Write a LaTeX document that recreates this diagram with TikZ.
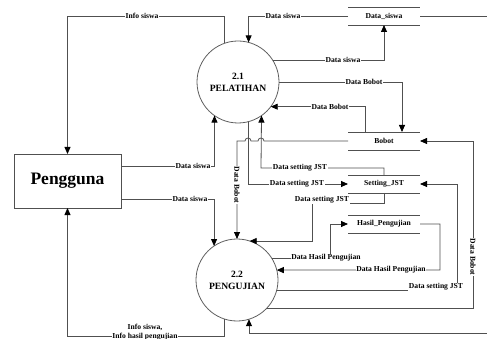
\documentclass[tikz,border=0pt]{standalone}
\usepackage{fontspec}
\setmainfont{Liberation Serif}
\usetikzlibrary{arrows.meta,calc}
\definecolor{wire}{RGB}{80,80,80}
\definecolor{rim}{RGB}{95,95,95}
\begin{document}
\begin{tikzpicture}[x=1pt,y=-1pt,
  flow/.style={draw=wire, line width=0.8pt,
    -{Triangle[length=7pt,width=6pt,color=black]}},
  wirepath/.style={draw=wire, line width=0.8pt},
  lbl/.style={font=\bfseries\fontsize{7.6}{8.6}\selectfont, fill=white,
    inner sep=0.6pt, text=black},
  process/.style={circle, draw=rim, line width=0.8pt, minimum size=82pt,
    inner sep=0pt, outer sep=0pt, align=center,
    font=\bfseries\fontsize{9.6}{12}\selectfont},
  entity/.style={rectangle, draw=wire, line width=0.8pt, minimum width=107pt,
    minimum height=54pt, inner sep=0pt, outer sep=0pt,
    font=\bfseries\fontsize{17.5}{20}\selectfont},
  store/.style={minimum width=72pt, minimum height=18pt, inner sep=0pt,
    outer sep=0pt, font=\bfseries\fontsize{7.6}{8.6}\selectfont},
  storeline/.style={draw=wire, line width=0.8pt}]
\useasboundingbox (0,0) rectangle (487,339);
\clip (0,0) rectangle (487,339);

% processes, external entity and data stores
\node[process] (c21) at (238,82) {2.1\\PELATIHAN};
\node[process] (c22) at (237,280) {2.2\\PENGUJIAN};
\node[entity] (pg) at (67.5,181) {Pengguna};
\node[store] (ds) at (384,16) {Data\_siswa};
\node[store] (bb) at (384,141) {Bobot};
\node[store] (st) at (384,184) {Setting\_JST};
\node[store] (hp) at (384,224) {Hasil\_Pengujian};
\foreach \s in {ds,bb,st,hp}{
  \draw[storeline] (\s.north west) -- (\s.north east);
  \draw[storeline] (\s.south west) -- (\s.south east);
}

% Pengguna <-> 2.1
\draw[flow] (c21.110) |- (67.5,16) -- (pg.north);
\node[lbl] (l1) at (142,16) {Info siswa};
\draw[flow] ($(pg.north east)!0.222!(pg.south east)$) -| (c21.-125.8);
\node[lbl] (l2) at (193,166) {Data siswa};

% Data_siswa <-> 2.1
\draw[flow] (ds.west) -| (c21.75.9);
\node[lbl] (l3) at (283,16) {Data siswa};
\draw[flow] (c21.32.45) -| (ds.south);
\node[lbl] (l4) at (343,60) {Data siswa};

% Bobot <-> 2.1
\draw[flow] (c21.east) -| ($(bb.north)!0.5!(bb.north east)$);
\node[lbl] (l5) at (364,82) {Data Bobot};
\draw[flow] ($(bb.north west)!0.47!(bb.north)$) |- (c21.-37.6);
\node[lbl] (l6) at (330,107) {Data Bobot};

% Setting_JST <-> 2.1
\draw[flow] (c21.-75.9) |- (st.west);
\node[lbl] (l7) at (297,184) {Data setting JST};
\draw[flow] (st.north) |- (261,168) -- (c21.-55.9);
\node[lbl] (l8) at (300,168) {Data setting JST};

% Bobot -> 2.2, hopping over the two setting lines
\draw[flow] (bb.west) -- (264,141)
  arc[start angle=0,end angle=-180,radius=3] -- (251,141)
  arc[start angle=0,end angle=-180,radius=3] -- (237,141) -- (c22.north);
\node[lbl, rotate=-90] (l9) at (237,185) {Data Bobot};

% Pengguna -> 2.2
\draw[flow] ($(pg.north east)!0.833!(pg.south east)$) -| (c22.124.1);
\node[lbl] (l10) at (190,199) {Data siswa};

% Setting_JST -> 2.2
\draw[flow] (st.south) |- (312,203) |- (c22.72);
\node[lbl] (l11) at (322,200) {Data setting JST};

% 2.2 <-> Hasil_Pengujian
\draw[flow] (c22.32.45) -| (330,224) -- (hp.west);
\node[lbl] (l12) at (326,258) {Data Hasil Pengujian};
\draw[flow] (hp.east) -| (440,270) -- (c22.14.1);
\node[lbl] (l13) at (391,270) {Data Hasil Pengujian};

% 2.2 -> Setting_JST and Bobot
\draw[flow] (c22.-15.6) -| (457,184) -- (st.east);
\node[lbl] (l14) at (436,287) {Data setting JST};
\draw[flow] (c22.-43.1) -| (473,141) -- (bb.east);
\node[lbl, rotate=-90] (l15) at (473,257) {Data Bobot};

% Data_siswa -> 2.2, routed round the right edge
\draw[flow] (ds.east) -- (500,16) -- (500,333) -| (c22.-73);

% 2.2 -> Pengguna
\draw[flow] (c22.-108.5) |- (67.5,336) -- (pg.south);
\node[lbl, align=center, font=\bfseries\fontsize{7.6}{8.4}\selectfont]
  (l16) at (145,332) {Info siswa,\\Info hasil pengujian};
\end{tikzpicture}
\end{document}
